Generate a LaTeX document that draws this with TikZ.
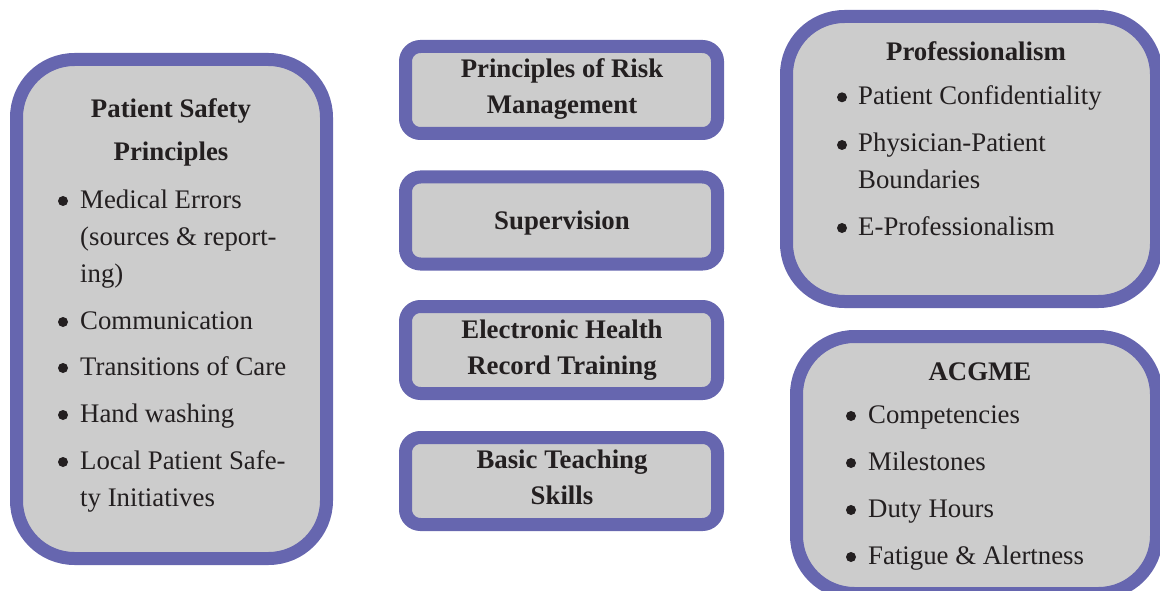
\documentclass[tikz,border=0pt]{standalone}
\usepackage{fontspec}
\setmainfont{Liberation Serif}
\definecolor{boxc}{HTML}{6666AF}
\definecolor{boxf}{HTML}{CCCCCC}
\definecolor{txt}{HTML}{231F20}
\tikzset{
  bigbox/.style={draw=boxc, fill=boxf, line width=13pt, rounded corners=58pt, inner sep=0pt},
  midbox/.style={draw=boxc, fill=boxf, line width=13pt, rounded corners=15pt, inner sep=0pt,
    minimum width=312pt, minimum height=87pt},
  ttl/.style={anchor=base, inner sep=0pt, text=txt, font=\fontsize{26.8}{30}\selectfont\bfseries},
  itm/.style={anchor=base west, inner sep=0pt, text=txt, font=\fontsize{26.8}{30}\selectfont},
  bul/.style={circle, fill=txt, inner sep=0pt, minimum size=10pt},
}
\begin{document}
\begin{tikzpicture}[x=1pt,y=-1pt]
\useasboundingbox (0,0) rectangle (1160,591);
\clip (0,0) rectangle (1160,591);
% boxes
\node[bigbox, minimum width=310pt, minimum height=499pt] (left) at (171.5,309) {};
\node[midbox] (m1) at (561.5,90) {};
\node[midbox] (m2) at (561.5,220.5) {};
\node[midbox] (m3) at (561.5,350) {};
\node[midbox] (m4) at (561.5,481) {};
\node[bigbox, minimum width=370pt, minimum height=285pt] (rt) at (971.5,159) {};
\node[bigbox, minimum width=360pt, minimum height=257pt] (rb) at (976.5,465) {};
% left box text
\node[ttl] (l0a) at (171,118) {Patient Safety};
\node[ttl] (l0b) at (171,161) {Principles};
\node[bul] (lb1) at (63,201) {};
\node[itm] (l1a) at (80,208) {Medical Errors};
\node[itm] (l1b) at (80,245) {(sources \& report-};
\node[itm] (l1c) at (80,282) {ing)};
\node[bul] (lb2) at (63,322) {};
\node[itm] (l2) at (80,329) {Communication};
\node[bul] (lb3) at (63,368) {};
\node[itm] (l3) at (80,375) {Transitions of Care};
\node[bul] (lb4) at (63,415) {};
\node[itm] (l4) at (80,422) {Hand washing};
\node[bul] (lb5) at (63,462) {};
\node[itm] (l5a) at (80,469) {Local Patient Safe-};
\node[itm] (l5b) at (80,506) {ty Initiatives};
% middle text
\node[ttl] (m1a) at (562,77.5) {Principles of Risk};
\node[ttl] (m1b) at (562,113.5) {Management};
\node[ttl] (m2a) at (562,229.5) {Supervision};
\node[ttl] (m3a) at (562,338) {Electronic Health};
\node[ttl] (m3b) at (562,374) {Record Training};
\node[ttl] (m4a) at (562,468) {Basic Teaching};
\node[ttl] (m4b) at (562,504) {Skills};
% right top text
\node[ttl] (r0) at (976,61) {Professionalism};
\node[bul] (rb1) at (842,97.3) {};
\node[itm] (r1) at (858,104.5) {Patient Confidentiality};
\node[bul] (rb2) at (842,145) {};
\node[itm] (r2a) at (858,152) {Physician-Patient};
\node[itm] (r2b) at (858,189) {Boundaries};
\node[bul] (rb3) at (842,228) {};
\node[itm] (r3) at (858,235) {E-Professionalism};
% right bottom text
\node[ttl] (s0) at (980,380) {ACGME};
\node[bul] (sb1) at (851,416) {};
\node[itm] (s1) at (868,423) {Competencies};
\node[bul] (sb2) at (851,463) {};
\node[itm] (s2) at (868,470) {Milestones};
\node[bul] (sb3) at (851,510) {};
\node[itm] (s3) at (868,517) {Duty Hours};
\node[bul] (sb4) at (851,557) {};
\node[itm] (s4) at (868,564) {Fatigue \& Alertness};
\end{tikzpicture}
\end{document}
